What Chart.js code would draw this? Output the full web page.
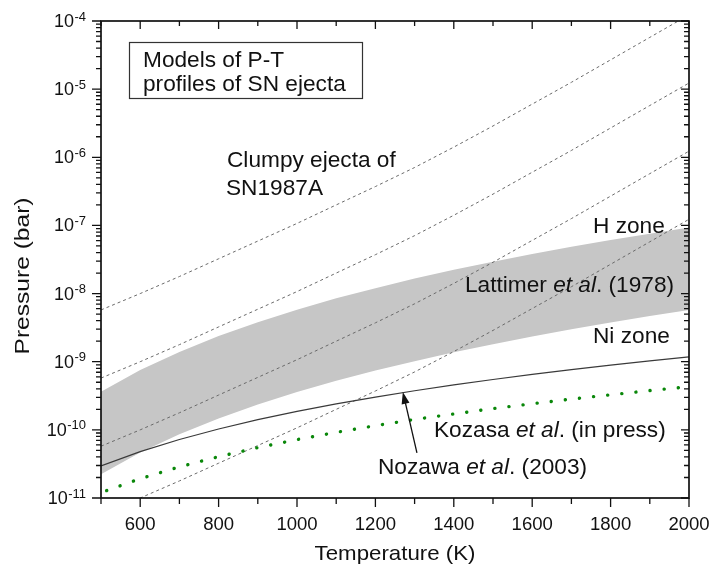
<!DOCTYPE html>
<html>
<head>
<meta charset="utf-8">
<script src="https://cdn.jsdelivr.net/npm/chart.js@4.4.1/dist/chart.umd.min.js"></script>
<style>
  html, body { margin: 0; padding: 0; background: #fff; }
  #wrap { width: 711px; height: 566px; position: relative; }
</style>
</head>
<body>
<div id="wrap"><canvas id="ptChart"></canvas></div>
<script>
// temperature grid (K)
const temps = [500, 600, 700, 800, 900, 1000, 1100, 1200, 1300, 1400, 1500, 1600, 1700, 1800, 1900, 2000];

// clumpy ejecta of SN1987A (dashed, one decade apart)
const clumpy1 = [5.75e-9, 1.0e-8, 1.78e-8, 3.24e-8, 5.89e-8, 1.07e-7, 2.0e-7, 3.72e-7, 7.08e-7, 1.41e-6, 2.88e-6, 6.03e-6, 1.26e-5, 2.69e-5, 5.75e-5, 1.23e-4];
const clumpy2 = [5.75e-10, 1.0e-9, 1.78e-9, 3.24e-9, 5.89e-9, 1.07e-8, 2.0e-8, 3.72e-8, 7.08e-8, 1.41e-7, 2.88e-7, 6.03e-7, 1.26e-6, 2.69e-6, 5.75e-6, 1.23e-5];
const clumpy3 = [5.75e-11, 1.0e-10, 1.78e-10, 3.24e-10, 5.89e-10, 1.07e-9, 2.0e-9, 3.72e-9, 7.08e-9, 1.41e-8, 2.88e-8, 6.03e-8, 1.26e-7, 2.69e-7, 5.75e-7, 1.23e-6];
const clumpy4 = [5.75e-12, 1.0e-11, 1.78e-11, 3.24e-11, 5.89e-11, 1.07e-10, 2.0e-10, 3.72e-10, 7.08e-10, 1.41e-9, 2.88e-9, 6.03e-9, 1.26e-8, 2.69e-8, 5.75e-8, 1.23e-7];

// Lattimer et al. (1978) band: H zone (top) and Ni zone (bottom)
const lattimerH = [3.63e-10, 7.53e-10, 1.39e-9, 2.38e-9, 3.81e-9, 5.81e-9, 8.51e-9, 1.20e-8, 1.66e-8, 2.23e-8, 2.94e-8, 3.81e-8, 4.85e-8, 6.10e-8, 7.57e-8, 9.29e-8];
const lattimerNi = [2.24e-11, 4.64e-11, 8.60e-11, 1.47e-10, 2.35e-10, 3.58e-10, 5.25e-10, 7.43e-10, 1.02e-9, 1.38e-9, 1.81e-9, 2.35e-9, 2.99e-9, 3.76e-9, 4.67e-9, 5.73e-9];

// Nozawa et al. (2003) and Kozasa et al. (in press)
const nozawa = [2.95e-11, 4.80e-11, 7.22e-11, 1.03e-10, 1.41e-10, 1.87e-10, 2.40e-10, 3.03e-10, 3.75e-10, 4.56e-10, 5.48e-10, 6.51e-10, 7.65e-10, 8.91e-10, 1.03e-9, 1.18e-9];
const kozasa = [1.20e-11, 1.92e-11, 2.86e-11, 4.04e-11, 5.48e-11, 7.19e-11, 9.19e-11, 1.15e-10, 1.42e-10, 1.71e-10, 2.05e-10, 2.42e-10, 2.83e-10, 3.27e-10, 3.77e-10, 4.30e-10];

// axis ticks
const xTickLabels = [600, 800, 1000, 1200, 1400, 1600, 1800, 2000];
const yDecades = [-11, -10, -9, -8, -7, -6, -5, -4];

const FONT = '"Liberation Sans", Arial, sans-serif';
const pts = ys => temps.map((t, i) => ({ x: t, y: ys[i] }));

function drawText(ctx, x, y, parts, size, opts) {
    opts = opts || {};
    const sx = opts.stretch || 1.03;
    ctx.save();
    ctx.translate(x, y);
    if (opts.rotate) ctx.rotate(opts.rotate);
    ctx.scale(sx, 1);
    ctx.fillStyle = '#111';
    ctx.textAlign = 'left';
    ctx.textBaseline = 'alphabetic';
    let w = 0;
    for (const [t, it] of parts) {
        ctx.font = (it ? 'italic ' : '') + size + 'px ' + FONT;
        w += ctx.measureText(t).width;
    }
    let cx = opts.align === 'center' ? -w / 2 : (opts.align === 'right' ? -w : 0);
    for (const [t, it] of parts) {
        ctx.font = (it ? 'italic ' : '') + size + 'px ' + FONT;
        ctx.fillText(t, cx, 0);
        cx += ctx.measureText(t).width;
    }
    ctx.restore();
}

const framePlugin = {
    id: 'frame',
    afterDraw(chart) {
        const ctx = chart.ctx;
        const a = chart.chartArea;
        const xs = chart.scales.x, ys = chart.scales.y;
        ctx.save();
        ctx.strokeStyle = '#111';
        ctx.lineWidth = 1.7;
        ctx.strokeRect(a.left, a.top, a.right - a.left, a.bottom - a.top);

        ctx.lineWidth = 1.3;
        ctx.beginPath();
        for (let t = 500; t <= 2000; t += 100) {
            const px = xs.getPixelForValue(t);
            const major = t % 200 === 0;
            ctx.moveTo(px, a.bottom); ctx.lineTo(px, a.bottom + (major ? 9 : 6));
            ctx.moveTo(px, a.top); ctx.lineTo(px, a.top + (major ? 8 : 5));
        }
        for (const e of yDecades) {
            const py = ys.getPixelForValue(Math.pow(10, e));
            ctx.moveTo(a.left, py); ctx.lineTo(a.left - 9, py);
            ctx.moveTo(a.right, py); ctx.lineTo(a.right - 8, py);
            if (e < -4) {
                for (let m = 2; m <= 9; m++) {
                    const q = ys.getPixelForValue(m * Math.pow(10, e));
                    ctx.moveTo(a.left, q); ctx.lineTo(a.left - 5, q);
                    ctx.moveTo(a.right, q); ctx.lineTo(a.right - 5, q);
                }
            }
        }
        ctx.stroke();

        // tick labels
        for (const t of xTickLabels) {
            drawText(ctx, xs.getPixelForValue(t), a.bottom + 32, [[String(t)]], 18, { align: 'center' });
        }
        for (const e of yDecades) {
            const py = ys.getPixelForValue(Math.pow(10, e));
            ctx.save();
            ctx.fillStyle = '#111';
            ctx.textAlign = 'right';
            ctx.font = '13px ' + FONT;
            const sup = String(e);
            ctx.fillText(sup, 86, py - 0.5);
            const sw = ctx.measureText(sup).width;
            ctx.font = '18px ' + FONT;
            ctx.fillText('10', 86 - sw - 0.5, py + 6);
            ctx.restore();
        }

        // axis titles
        drawText(ctx, (a.left + a.right) / 2, 560, [['Temperature (K)']], 21, { align: 'center', stretch: 1.06 });
        drawText(ctx, 28.5, 276, [['Pressure (bar)']], 21, { align: 'center', rotate: -Math.PI / 2, stretch: 1.17 });

        // title box
        ctx.strokeStyle = '#333';
        ctx.lineWidth = 1.2;
        ctx.strokeRect(129.5, 42.5, 233, 56);
        drawText(ctx, 143, 67, [['Models of P-T']], 22);
        drawText(ctx, 143, 91, [['profiles of SN ejecta']], 22);

        // annotations
        drawText(ctx, 227, 167, [['Clumpy ejecta of']], 22);
        drawText(ctx, 226, 195, [['SN1987A']], 22);
        drawText(ctx, 593, 233, [['H zone']], 22);
        drawText(ctx, 465, 292, [['Lattimer '], ['et al', true], ['. (1978)']], 22);
        drawText(ctx, 593, 343, [['Ni zone']], 22);
        drawText(ctx, 434, 437, [['Kozasa '], ['et al', true], ['. (in press)']], 22);
        drawText(ctx, 378, 474, [['Nozawa '], ['et al', true], ['. (2003)']], 22);

        // arrow to Nozawa curve
        const x0 = xs.getPixelForValue(1306), y0 = ys.getPixelForValue(4.6e-11);
        const x1 = xs.getPixelForValue(1270), y1 = ys.getPixelForValue(3.6e-10);
        const ang = Math.atan2(y1 - y0, x1 - x0);
        ctx.strokeStyle = '#111';
        ctx.fillStyle = '#111';
        ctx.lineWidth = 1.3;
        ctx.beginPath();
        ctx.moveTo(x0, y0);
        ctx.lineTo(x1 - 10 * Math.cos(ang), y1 - 10 * Math.sin(ang));
        ctx.stroke();
        ctx.beginPath();
        ctx.moveTo(x1, y1);
        ctx.lineTo(x1 - 12 * Math.cos(ang) + 4 * Math.sin(ang), y1 - 12 * Math.sin(ang) - 4 * Math.cos(ang));
        ctx.lineTo(x1 - 12 * Math.cos(ang) - 4 * Math.sin(ang), y1 - 12 * Math.sin(ang) + 4 * Math.cos(ang));
        ctx.closePath();
        ctx.fill();
        ctx.restore();
    }
};

const dashed = ys => ({
    data: pts(ys), borderColor: '#6a6a6a', borderWidth: 1, borderDash: [3, 3],
    pointRadius: 0, fill: false, order: 2
});

new Chart(document.getElementById('ptChart'), {
    type: 'line',
    data: {
        datasets: [
            { data: pts(lattimerH), borderWidth: 0, borderColor: 'rgba(0,0,0,0)', backgroundColor: '#c6c6c6', pointRadius: 0, fill: '+1', order: 10 },
            { data: pts(lattimerNi), borderWidth: 0, borderColor: 'rgba(0,0,0,0)', pointRadius: 0, fill: false, order: 9 },
            dashed(clumpy1),
            dashed(clumpy2),
            dashed(clumpy3),
            dashed(clumpy4),
            { data: pts(nozawa), borderColor: '#3a3a3a', borderWidth: 1.2, pointRadius: 0, fill: false, order: 1 },
            { data: pts(kozasa), borderColor: '#0a870a', borderWidth: 3.4, borderDash: [0.1, 14.1], borderDashOffset: 8.2, borderCapStyle: 'round', pointRadius: 0, fill: false, order: 0 }
        ]
    },
    options: {
        responsive: true,
        maintainAspectRatio: false,
        animation: false,
        events: [],
        layout: { padding: { left: 101, right: 22, top: 21, bottom: 68 } },
        elements: { line: { tension: 0 } },
        scales: {
            x: { type: 'linear', min: 500, max: 2000, display: false },
            y: { type: 'logarithmic', min: 1e-11, max: 1e-4, display: false }
        },
        plugins: {
            legend: { display: false },
            tooltip: { enabled: false },
            filler: { drawTime: 'beforeDatasetsDraw' }
        }
    },
    plugins: [framePlugin]
});
</script>
</body>
</html>
